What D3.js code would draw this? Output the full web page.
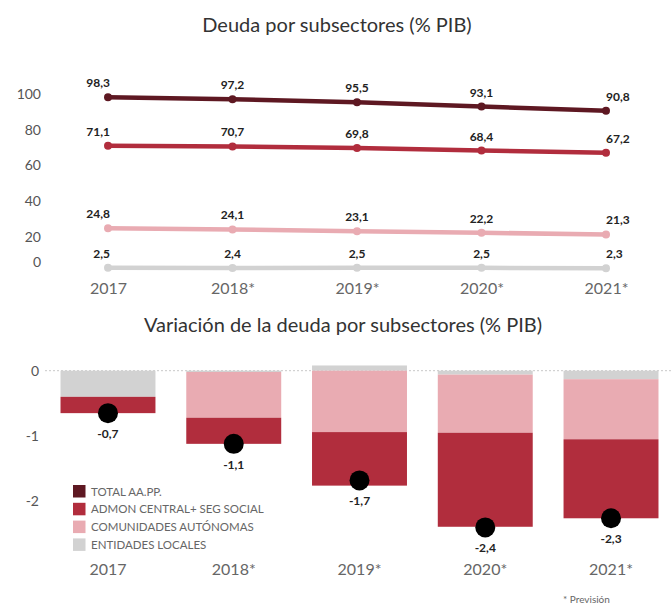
<!DOCTYPE html>
<html>
<head>
<meta charset="utf-8">
<script src="https://cdn.jsdelivr.net/npm/d3@7"></script>
<style>
  body { margin: 0; background: #fff; }
  svg { font-family: Lato, "Open Sans", sans-serif; display: block; }
</style>
</head>
<body>
<div id="chart"></div>
<script>
// --- data ---
const years = ['2017', '2018*', '2019*', '2020*', '2021*'];

// Deuda por subsectores (% PIB)
const totalDebt = [98.3, 97.2, 95.5, 93.1, 90.8];
const admonDebt = [71.1, 70.7, 69.8, 68.4, 67.2];
const ccaaDebt = [24.8, 24.1, 23.1, 22.2, 21.3];
const eellDebt = [2.5, 2.4, 2.5, 2.5, 2.3];
const debtTicks = [0, 20, 40, 60, 80, 100];

// Variación de la deuda (% PIB)
const varEell = [-0.4, -0.02, 0.08, -0.06, -0.13];
const varCcaa = [0, -0.70, -0.94, -0.89, -0.92];
const varAdmon = [-0.25, -0.40, -0.82, -1.44, -1.21];
const varTotal = [-0.65, -1.12, -1.68, -2.40, -2.26];
const varTicks = [0, -1, -2];

const legendLabels = ['TOTAL AA.PP.', 'ADMON CENTRAL+ SEG SOCIAL', 'COMUNIDADES AUTÓNOMAS', 'ENTIDADES LOCALES'];

const colors = {
  total: '#5e1822',
  admon: '#b12d3d',
  ccaa: '#e9abb2',
  eell: '#d2d2d2'
};

const W = 671, H = 606;
const es = d3.formatLocale({ decimal: ',', thousands: '.', grouping: [3], currency: ['', '€'], minus: '-' });
const fmt = es.format('.1f');

const svg = d3.select('#chart').append('svg')
  .attr('width', W)
  .attr('height', H);

// ---------- top chart ----------
svg.append('text')
  .attr('x', 337).attr('y', 32)
  .attr('text-anchor', 'middle')
  .style('font-size', '20px')
  .style('fill', '#333')
  .text('Deuda por subsectores (% PIB)');

const xTop = d3.scalePoint().domain(years).range([108, 606]);
const yTop = d3.scaleLinear().domain([0, 100]).range([272.3, 94.3]);

const yAxisTop = svg.append('g')
  .attr('transform', 'translate(41,0)')
  .call(d3.axisLeft(yTop).tickValues(debtTicks).tickSize(0).tickPadding(0).tickFormat(d => d));
yAxisTop.select('.domain').remove();
yAxisTop.selectAll('text')
  .style('font-family', 'Lato, sans-serif')
  .style('font-size', '14px')
  .style('fill', '#555');
// the "0" label sits a bit higher in the original
yAxisTop.selectAll('.tick').filter(d => d === 0).select('text').attr('dy', '-0.45em');

const xAxisTop = svg.append('g')
  .attr('transform', 'translate(0,280)')
  .call(d3.axisBottom(xTop).tickSize(0).tickPadding(0));
xAxisTop.select('.domain').remove();
xAxisTop.selectAll('text')
  .attr('dy', '0.85em')
  .style('font-family', 'Lato, sans-serif')
  .style('font-size', '16px')
  .style('fill', '#666');

const series = [
  { key: 'eell', values: eellDebt },
  { key: 'ccaa', values: ccaaDebt },
  { key: 'admon', values: admonDebt },
  { key: 'total', values: totalDebt }
];

const line = d3.line()
  .x((d, i) => xTop(years[i]))
  .y(d => yTop(d));

series.forEach(s => {
  const g = svg.append('g').attr('class', 'series-' + s.key);
  g.append('path')
    .datum(s.values)
    .attr('d', line)
    .attr('fill', 'none')
    .attr('stroke', colors[s.key])
    .attr('stroke-width', 4.5)
    .attr('stroke-linecap', 'round');
  g.selectAll('circle')
    .data(s.values)
    .join('circle')
    .attr('cx', (d, i) => xTop(years[i]))
    .attr('cy', d => yTop(d))
    .attr('r', 4)
    .attr('fill', colors[s.key]);
  g.selectAll('text')
    .data(s.values)
    .join('text')
    .attr('x', (d, i) => xTop(years[i]) + (i === 0 ? 2 : 0))
    .attr('y', d => yTop(d) - 10)
    .attr('text-anchor', (d, i) => i === 0 ? 'end' : (i === years.length - 1 ? 'start' : 'middle'))
    .style('font-size', '12px')
    .style('font-weight', 'bold')
    .style('fill', '#222')
    .text(d => fmt(d));
});

// ---------- bottom chart ----------
svg.append('text')
  .attr('x', 343).attr('y', 332)
  .attr('text-anchor', 'middle')
  .style('font-size', '20px')
  .style('fill', '#333')
  .text('Variación de la deuda por subsectores (% PIB)');

const xBot = d3.scaleBand().domain(years).range([29.7, 689.3]).padding(0.245);
const yBot = d3.scaleLinear().domain([0, -2]).range([370.7, 501.3]);

// dotted zero line
svg.append('line')
  .attr('x1', 45).attr('x2', W)
  .attr('y1', yBot(0)).attr('y2', yBot(0))
  .attr('stroke', '#c8c8c8')
  .attr('stroke-width', 1)
  .attr('stroke-dasharray', '2,2');

const yAxisBot = svg.append('g')
  .attr('transform', 'translate(39,0)')
  .call(d3.axisLeft(yBot).tickValues(varTicks).tickSize(0).tickPadding(0).tickFormat(d => String(d)));
yAxisBot.select('.domain').remove();
yAxisBot.selectAll('text')
  .style('font-family', 'Lato, sans-serif')
  .style('font-size', '14px')
  .style('fill', '#555');

const xAxisBot = svg.append('g')
  .attr('transform', 'translate(0,561)')
  .call(d3.axisBottom(xBot).tickSize(0).tickPadding(0));
xAxisBot.select('.domain').remove();
xAxisBot.selectAll('text')
  .attr('dy', '0.85em')
  .style('font-family', 'Lato, sans-serif')
  .style('font-size', '16px')
  .style('fill', '#666');

const varRows = years.map((y, i) => ({ year: y, eell: varEell[i], ccaa: varCcaa[i], admon: varAdmon[i] }));
const stacked = d3.stack()
  .keys(['eell', 'ccaa', 'admon'])
  .offset(d3.stackOffsetDiverging)(varRows);

svg.append('g').selectAll('g')
  .data(stacked)
  .join('g')
  .attr('fill', d => colors[d.key])
  .selectAll('rect')
  .data(d => d)
  .join('rect')
  .attr('x', d => xBot(d.data.year))
  .attr('width', xBot.bandwidth())
  .attr('y', d => yBot(d[1]))
  .attr('height', d => Math.abs(yBot(d[0]) - yBot(d[1])));

// total dots + labels
svg.append('g').selectAll('circle')
  .data(varTotal)
  .join('circle')
  .attr('cx', (d, i) => xBot(years[i]) + xBot.bandwidth() / 2)
  .attr('cy', d => yBot(d))
  .attr('r', 10)
  .attr('fill', '#000');

svg.append('g').selectAll('text')
  .data(varTotal)
  .join('text')
  .attr('x', (d, i) => xBot(years[i]) + xBot.bandwidth() / 2)
  .attr('y', d => yBot(d) + 25)
  .attr('text-anchor', 'middle')
  .style('font-size', '12px')
  .style('font-weight', 'bold')
  .style('fill', '#222')
  .text(d => fmt(d));

// legend
const legendKeys = ['total', 'admon', 'ccaa', 'eell'];
const legend = svg.append('g').attr('transform', 'translate(73,485)');
legend.selectAll('rect')
  .data(legendKeys)
  .join('rect')
  .attr('x', 0)
  .attr('y', (d, i) => i * 17.8)
  .attr('width', 12.5)
  .attr('height', 12.5)
  .attr('fill', d => colors[d]);
legend.selectAll('text')
  .data(legendLabels)
  .join('text')
  .attr('x', 18)
  .attr('y', (d, i) => i * 17.8 + 10.5)
  .style('font-size', '11.5px')
  .style('fill', '#666')
  .text(d => d);

// footnote
svg.append('text')
  .attr('x', 563).attr('y', 603)
  .style('font-size', '10px')
  .style('fill', '#666')
  .text('* Previsión');
</script>
</body>
</html>
